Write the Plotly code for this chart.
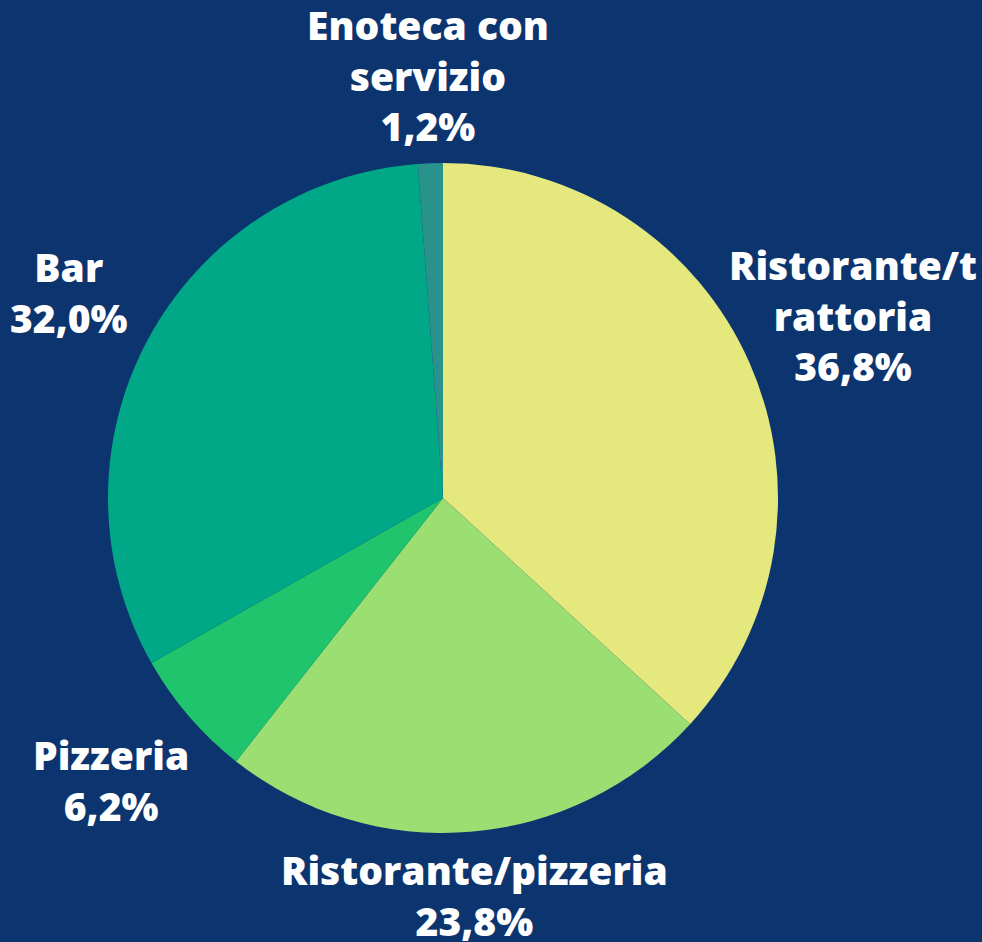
import plotly.graph_objects as go

labels = ["Ristorante/t<br>rattoria", "Ristorante/pizzeria", "Pizzeria", "Bar", "Enoteca con<br>servizio"]
values = [36.8, 23.8, 6.2, 32.0, 1.2]
colors = ["#e5e87c", "#9bdf73", "#1fc46c", "#00a888", "#29928a"]

# layout only: label anchor positions (paper fractions)
label_x = [0.8686, 0.4837, 0.1130, 0.0703, 0.4358]
label_y = [0.6661, 0.0499, 0.1720, 0.6905, 0.9199]

fig = go.Figure(go.Pie(
    labels=labels,
    values=values,
    sort=False,
    direction="clockwise",
    rotation=0,
    marker=dict(colors=colors, line=dict(width=0)),
    textinfo="none",
    showlegend=False,
    hoverinfo="label+percent",
    domain=dict(x=[0.10998, 0.79226], y=[0.1157, 0.8270]),
))

font = dict(family="Open Sans", size=39, color="white", weight=800)
total = sum(values)
for lab, val, px, py in zip(labels, values, label_x, label_y):
    pct = f"{100 * val / total:.1f}%".replace(".", ",")
    fig.add_annotation(x=px, y=py, xref="paper", yref="paper",
                       xanchor="center", yanchor="middle", align="center",
                       text=f"{lab}<br>{pct}", showarrow=False, font=font)

fig.update_layout(
    width=982, height=942,
    margin=dict(l=0, r=0, t=0, b=0),
    paper_bgcolor="#0c3570",
    plot_bgcolor="#0c3570",
    font=dict(family="Open Sans", color="white"),
)

fig.write_html("out.html", config={"displayModeBar": False},
               post_script="document.body.style.margin='0';document.body.style.overflow='hidden';")
